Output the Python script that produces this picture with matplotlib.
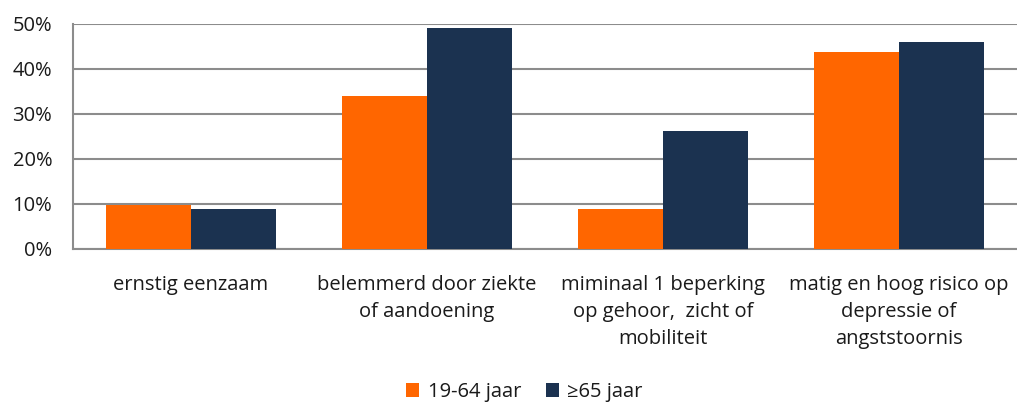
import matplotlib.pyplot as plt
import numpy as np

plt.rcParams['font.family'] = ['Open Sans', 'DejaVu Sans']

categories = ['ernstig eenzaam',
              'belemmerd door ziekte\nof aandoening',
              'miminaal 1 beperking\nop gehoor,  zicht of\nmobiliteit',
              'matig en hoog risico op\ndepressie of\nangststoornis']
jong = [9.8, 34.1, 8.9, 43.8]
oud = [8.9, 49.2, 26.2, 46.1]
series_labels = ['19-64 jaar', '≥65 jaar']

fig = plt.figure(figsize=(10.17, 4.03), dpi=100)
ax = fig.add_axes([73 / 1017, 1 - 249 / 403, 944 / 1017, 225 / 403])

x = np.arange(len(categories))
w = 0.362
ax.bar(x - w / 2, jong, w, color='#FF6600', label=series_labels[0], zorder=3)
ax.bar(x + w / 2, oud, w, color='#1B3250', label=series_labels[1], zorder=3)

ax.set_xlim(-0.5, len(categories) - 0.5)
ax.set_ylim(0, 50)
ax.set_yticks(range(0, 51, 10))
ax.set_yticklabels([f'{v}%' for v in range(0, 51, 10)])
ax.yaxis.grid(True, color='#8c8c8c', linewidth=1.5, zorder=0)
ax.set_xticks(x)
ax.set_xticklabels(categories, linespacing=1.45)
ax.tick_params(length=0, labelsize=14.5, colors='#1a1a1a')
ax.tick_params(axis='y', pad=15)
ax.tick_params(axis='x', pad=19)

for side in ['top', 'right']:
    ax.spines[side].set_visible(False)
for side in ['left', 'bottom']:
    ax.spines[side].set_color('#8c8c8c')
    ax.spines[side].set_linewidth(1.5)

fig.legend(loc='center', bbox_to_anchor=(524.5 / 1017, 1 - 392 / 403), ncol=2, frameon=False,
           fontsize=14.5, handlelength=0.65, handleheight=0.65, handletextpad=0.4,
           columnspacing=1.25, labelcolor='#1a1a1a')

fig.savefig('out.png', dpi=100)
